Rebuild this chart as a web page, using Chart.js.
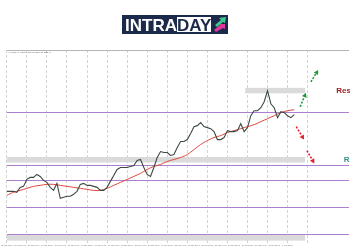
<!DOCTYPE html>
<html>
<head>
<meta charset="utf-8">
<script src="https://cdn.jsdelivr.net/npm/chart.js@4.4.1/dist/chart.umd.min.js"></script>
<style>
  html, body { margin:0; padding:0; background:#fff; }
  #box { position:relative; width:350px; height:250px; }
  #chart { position:absolute; left:0; top:0; }
  #logo { position:absolute; left:122px; top:15px; width:106px; height:19px; background:#1b2a4a;
          font-family:"Liberation Sans", Arial, sans-serif; font-weight:bold; font-size:17px; }
  #logo .a { position:absolute; left:3px; top:1px; line-height:19px; color:#fff; }
  #logo .b { position:absolute; left:55px; top:2px; height:15px; line-height:17px; overflow:hidden;
             background:#fff; color:#1b2a4a; }
  #logo svg { position:absolute; left:91px; top:2px; }
</style>
</head>
<body>
<div id="box">
  <canvas id="chart" width="350" height="250"></canvas>
  <div id="logo"><span class="a">INTRA</span><span class="b">DAY</span>
    <svg width="14" height="15" viewBox="0 0 14 15">
      <polygon points="2,8 8,3 6,1 13,0 12,6 10,5 4,10" fill="#3fc98b"/>
      <polygon points="1,13 7,8 6,7 12,7 12,12 10,11 3,15" fill="#e2379a"/>
    </svg>
  </div>
</div>
<script>
/*PRICE DATA (4 hour bars, hours counted from the first grid day)*/
var barHours = 4;
var firstHour = -21.4;
var closes = [2104, 2104, 2104, 2102, 2112, 2114, 2128, 2132, 2132, 2138,
              2134, 2126, 2122, 2112, 2106, 2120, 2090, 2092, 2094, 2094,
              2098, 2104, 2118, 2120, 2116, 2116, 2114, 2112, 2106, 2106,
              2112, 2124, 2136, 2148, 2152, 2152, 2152, 2154, 2156, 2166,
              2168, 2152, 2138, 2134, 2152, 2172, 2184, 2182, 2182, 2176,
              2178, 2192, 2204, 2204, 2208, 2220, 2234, 2236, 2242, 2234,
              2232, 2230, 2224, 2208, 2208, 2212, 2226, 2224, 2224, 2226,
              2240, 2224, 2232, 2256, 2266, 2266, 2272, 2284, 2306, 2280,
              2272, 2252, 2264, 2262, 2256, 2252, 2258];

/*MOVING AVERAGE (one value every 8 hours)*/
var maHours = 8;
var movingAverage = [2096, 2102, 2106, 2110, 2114, 2116, 2118, 2118, 2116, 2114,
                     2112, 2110, 2108, 2106, 2106, 2110, 2116, 2122, 2128, 2134,
                     2140, 2148, 2154, 2158, 2164, 2168, 2172, 2178, 2188, 2198,
                     2206, 2212, 2216, 2222, 2226, 2230, 2234, 2238, 2244, 2250,
                     2256, 2262, 2266, 2268];

/*LEVELS AND ZONES*/
var levels = [2264, 2157, 2126, 2072, 2018];
var zoneFrom = [264, -21.4, -21.4];
var zoneTo = [335.5, 335.5, 335.5];
var zoneLow = [2301, 2162, 2005];
var zoneHigh = [2312, 2173, 2017];

/*SCENARIO ARROWS: fromHour, fromPrice, toHour, toPrice*/
var upArrows = [[329.7, 2274, 336.6, 2302], [342.5, 2324, 351.3, 2348]];
var downArrows = [[325, 2234, 334.3, 2208], [337.8, 2186, 346.6, 2160]];

/*TEXTS*/
var resistanceText = "Resistance";
var resistanceAt = [372.9, 2306];
var supportText = "Retest";
var supportAt = [381.7, 2168];
var symbolText = "XAUUSD,H4  2258.40 2261.10 2254.70 2258.40";

/*DATE LABELS (every 16 hours, starting at -16)*/
var dateLabels = ['12 Jan 20:00', '15 Jan 04:00', '15 Jan 20:00', '16 Jan 12:00', '17 Jan 04:00',
                  '17 Jan 20:00', '18 Jan 12:00', '19 Jan 04:00', '19 Jan 20:00', '22 Jan 12:00',
                  '23 Jan 04:00', '23 Jan 20:00', '24 Jan 12:00', '25 Jan 04:00', '25 Jan 20:00',
                  '26 Jan 12:00', '29 Jan 04:00', '29 Jan 20:00', '30 Jan 12:00', '31 Jan 04:00',
                  '31 Jan 20:00', '1 Feb 12:00'];

var hourMin = -21.4;
var hourMax = 388.1;

var pricePoints = [];
for (var i = 0; i < closes.length; i++) {
  pricePoints.push({x: firstHour + i * barHours, y: closes[i]});
}
var maPoints = [];
for (var i = 0; i < movingAverage.length; i++) {
  maPoints.push({x: firstHour + i * maHours, y: movingAverage[i]});
}

function drawArrow(ctx, x1, y1, x2, y2, color) {
  var ang = Math.atan2(y2 - y1, x2 - x1);
  var hx = x2 - Math.cos(ang) * 4.5;
  var hy = y2 - Math.sin(ang) * 4.5;
  ctx.save();
  ctx.strokeStyle = color;
  ctx.fillStyle = color;
  ctx.lineWidth = 1.6;
  ctx.setLineDash([2, 1.5]);
  ctx.beginPath();
  ctx.moveTo(x1, y1);
  ctx.lineTo(hx, hy);
  ctx.stroke();
  ctx.setLineDash([]);
  ctx.beginPath();
  ctx.moveTo(x2, y2);
  ctx.lineTo(hx + Math.cos(ang + Math.PI / 2) * 2.5, hy + Math.sin(ang + Math.PI / 2) * 2.5);
  ctx.lineTo(hx - Math.cos(ang + Math.PI / 2) * 2.5, hy - Math.sin(ang + Math.PI / 2) * 2.5);
  ctx.closePath();
  ctx.fill();
  ctx.restore();
}

/*ZONES AND LEVEL LINES UNDER THE PRICE*/
var zonePlugin = {
  id: 'zones',
  beforeDatasetsDraw: function (chart) {
    var ctx = chart.ctx, xs = chart.scales.x, ys = chart.scales.y;
    ctx.save();
    ctx.fillStyle = '#dadada';
    for (var i = 0; i < zoneLow.length; i++) {
      var l = xs.getPixelForValue(zoneFrom[i]), r = xs.getPixelForValue(zoneTo[i]);
      var t = ys.getPixelForValue(zoneHigh[i]), b = ys.getPixelForValue(zoneLow[i]);
      ctx.fillRect(l, t, r - l, b - t);
    }
    ctx.strokeStyle = '#ad80cf';
    ctx.lineWidth = 1;
    for (var i = 0; i < levels.length; i++) {
      var y = Math.round(ys.getPixelForValue(levels[i])) + 0.5;
      ctx.beginPath();
      ctx.moveTo(xs.getPixelForValue(hourMin), y);
      ctx.lineTo(xs.getPixelForValue(hourMax), y);
      ctx.stroke();
    }
    ctx.restore();
  },
  afterDatasetsDraw: function (chart) {
    var ctx = chart.ctx, xs = chart.scales.x, ys = chart.scales.y;
    for (var i = 0; i < upArrows.length; i++) {
      var a = upArrows[i];
      drawArrow(ctx, xs.getPixelForValue(a[0]), ys.getPixelForValue(a[1]), xs.getPixelForValue(a[2]), ys.getPixelForValue(a[3]), '#1f9a3a');
    }
    for (var i = 0; i < downArrows.length; i++) {
      var a = downArrows[i];
      drawArrow(ctx, xs.getPixelForValue(a[0]), ys.getPixelForValue(a[1]), xs.getPixelForValue(a[2]), ys.getPixelForValue(a[3]), '#e0202a');
    }
    ctx.save();
    ctx.font = 'bold 8px "Liberation Sans", Arial, sans-serif';
    ctx.textBaseline = 'middle';
    ctx.fillStyle = '#9b1c1c';
    ctx.fillText(resistanceText, xs.getPixelForValue(resistanceAt[0]), ys.getPixelForValue(resistanceAt[1]));
    ctx.fillStyle = '#3c8f8f';
    ctx.fillText(supportText, xs.getPixelForValue(supportAt[0]), ys.getPixelForValue(supportAt[1]));
    ctx.restore();
  },
  afterDraw: function (chart) {
    var ctx = chart.ctx, area = chart.chartArea;
    ctx.save();
    ctx.strokeStyle = '#b5b5b5';
    ctx.lineWidth = 1;
    ctx.beginPath();
    ctx.moveTo(area.left, Math.round(area.top) + 0.5);
    ctx.lineTo(area.right, Math.round(area.top) + 0.5);
    ctx.stroke();
    ctx.fillStyle = '#666';
    ctx.font = '2px "Liberation Sans", sans-serif';
    ctx.textBaseline = 'top';
    ctx.fillText(symbolText, area.left + 1, area.top + 1);
    ctx.restore();
  }
};

var ctx = document.getElementById("chart");
var myChart = new Chart(ctx, {
  type: 'line',
  data: {
    datasets: [{
      label: 'Price',
      data: pricePoints,
      borderColor: '#3d4a42',
      borderWidth: 1.1,
      pointRadius: 0,
      tension: 0
    }, {
      label: 'MA',
      data: maPoints,
      borderColor: '#e0463c',
      borderWidth: 1,
      pointRadius: 0,
      tension: 0.4
    }]
  },
  options: {
    responsive: false,
    animation: false,
    layout: { padding: { top: 50, bottom: 2, left: 0, right: 0 }, autoPadding: false },
    plugins: { legend: { display: false }, tooltip: { enabled: false } },
    scales: {
      x: {
        type: 'linear',
        position: 'bottom',
        min: hourMin,
        max: hourMax,
        bounds: 'data',
        grid: { display: false, drawTicks: false },
        border: { display: false },
        ticks: {
          stepSize: 16,
          includeBounds: false,
          autoSkip: false,
          maxRotation: 0,
          padding: 1,
          color: '#777',
          font: { size: 2, family: 'Liberation Sans' },
          callback: function (v) {
            var i = Math.round((v + 16) / 16);
            return dateLabels[i] || '';
          }
        }
      },
      xg: {
        type: 'linear',
        position: 'bottom',
        min: hourMin,
        max: hourMax,
        bounds: 'data',
        grid: {
          drawTicks: false,
          color: function (c) { return c.tick && c.tick.value > 340 ? 'rgba(0,0,0,0)' : '#d3d3d3'; }
        },
        border: { display: false, dash: [3, 2] },
        ticks: { display: false, stepSize: 24, includeBounds: false }
      },
      y: {
        display: false,
        min: 1999,
        max: 2388
      }
    }
  },
  plugins: [zonePlugin]
});
</script>
</body>
</html>
